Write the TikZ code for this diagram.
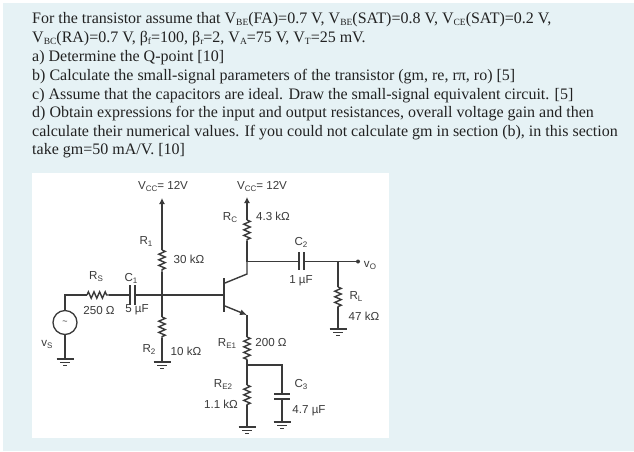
\documentclass[tikz,border=0pt]{standalone}
\usepackage{fontspec}
\setmainfont{Liberation Serif}
\newfontfamily\lblfont{Liberation Sans}
\usetikzlibrary{decorations.pathmorphing,arrows.meta}
\definecolor{pagebg}{HTML}{E6F2F5}
\definecolor{inkc}{HTML}{222222}
\definecolor{wirec}{HTML}{3A3A3A}
\newcommand{\sbs}[1]{\raisebox{-1.8pt}{\fontsize{9.5}{10}\selectfont #1}}
\newcommand{\lsb}[1]{\raisebox{-2pt}{\fontsize{8}{9}\selectfont #1}}
\tikzset{
  qline/.style={anchor=base west,inner sep=0pt,text=inkc,font=\fontsize{16}{18}\selectfont},
  lbl/.style={inner sep=0pt,text=wirec,font=\lblfont\fontsize{11.6}{12}\selectfont},
  wire/.style={draw=wirec,line width=1.4pt},
  zig/.style={wire,decorate,decoration={zigzag,amplitude=3.2pt,segment length=5.6pt}},
  plate/.style={draw=wirec,line width=1.4pt},
  gnd/.style={draw=wirec,line width=1.2pt},
  jdot/.style={circle,fill=wirec,inner sep=0pt,minimum size=4pt},
  srcnode/.style={circle,draw=wirec,line width=1.3pt,fill=white,minimum size=24pt,inner sep=0pt,font=\lblfont\fontsize{9}{10}\selectfont,text=wirec}
}
\newcommand{\grnd}[1]{
  \draw[gnd] ([xshift=-8.5pt]#1) -- ([xshift=8.5pt]#1);
  \draw[gnd] ([xshift=-5pt,yshift=-3.2pt]#1) -- ([xshift=5pt,yshift=-3.2pt]#1);
  \draw[gnd] ([xshift=-2pt,yshift=-6.4pt]#1) -- ([xshift=2pt,yshift=-6.4pt]#1);
}
\begin{document}
\begin{tikzpicture}[x=1pt,y=-1pt]
\useasboundingbox (0,0) rectangle (634,451);
\fill[white] (0,0) rectangle (634,451);
\fill[pagebg] (3,3) rectangle (634,451);
\fill[white] (32,173) rectangle (389,438);
% question text
\node[qline] (l1) at (32,23.3) {For the transistor assume that V\sbs{BE}(FA)=0.7 V, V\sbs{BE}(SAT)=0.8 V, V\sbs{CE}(SAT)=0.2 V,};
\node[qline] (l2) at (32,42.3) {V\sbs{BC}(RA)=0.7 V, β\sbs{f}=100, β\sbs{r}=2, V\sbs{A}=75 V, V\sbs{T}=25 mV.};
\node[qline] (l3) at (32,61.3) {a) Determine the Q-point [10]};
\node[qline] (l4) at (32,80.5) {b) Calculate the small-signal parameters of the transistor (gm, re, rπ, ro) [5]};
\node[qline] (l5) at (32,99) {c) Assume that the capacitors are ideal. Draw the small-signal equivalent circuit. [5]};
\node[qline] (l6) at (32,117.3) {d) Obtain expressions for the input and output resistances, overall voltage gain and then};
\node[qline] (l7) at (32,136) {calculate their numerical values. If you could not calculate gm in section (b), in this section};
\node[qline] (l8) at (32,154.5) {take gm=50 mA/V. [10]};
% coordinates
\coordinate (vcc1) at (162,198);
\coordinate (r1t) at (162,250);
\coordinate (r1b) at (162,272);
\coordinate (jb) at (162,295);
\coordinate (r2t) at (162,317);
\coordinate (r2b) at (162,338);
\coordinate (g2) at (162,362);
\node[srcnode] (vs) at (65,322.5) {\textasciitilde};
\coordinate (stop) at (65,295);
\coordinate (g1) at (65,359);
\coordinate (rsl) at (87,295);
\coordinate (rsr) at (109,295);
\coordinate (c1l) at (130,295);
\coordinate (c1r) at (135,295);
\coordinate (bb) at (224,295);
\coordinate (bt) at (224,278);
\coordinate (bbot) at (224,311.5);
\coordinate (ci) at (225,283);
\coordinate (ei) at (225,306);
\coordinate (col) at (247,274);
\coordinate (em) at (247,315);
\coordinate (jc) at (247,261.5);
\coordinate (rcb) at (247,241);
\coordinate (rct) at (247,220);
\coordinate (vcc2) at (247,197);
\coordinate (re1t) at (247,337);
\coordinate (re1b) at (247,360);
\coordinate (je) at (247,365);
\coordinate (re2t) at (247,385);
\coordinate (re2b) at (247,405);
\coordinate (g3) at (247,427);
\coordinate (c3c) at (282,365);
\coordinate (c3t) at (282,394);
\coordinate (c3b) at (282,399);
\coordinate (g4) at (282,422);
\coordinate (c2l) at (299,261.5);
\coordinate (c2r) at (304,261.5);
\coordinate (jo) at (338,261.5);
\node[jdot] (vo) at (358,261.5) {};
\coordinate (rlt) at (338,287);
\coordinate (rlb) at (338,307);
\coordinate (g5) at (338,329);
% wires
\draw[wire,-{Latex[length=6pt,width=6pt]}] (r1t) -- (vcc1);
\draw[zig] (r1t) -- (r1b);
\draw[wire] (r1b) -- (r2t);
\draw[zig] (r2t) -- (r2b);
\draw[wire] (r2b) -- (g2);
\grnd{g2}
\draw[wire] (vs.north) -- (stop) -- (rsl);
\draw[zig] (rsl) -- (rsr);
\draw[wire] (rsr) -- (c1l);
\draw[plate] (c1l |- 0,285) -- (c1l |- 0,305);
\draw[plate] (c1r |- 0,285) -- (c1r |- 0,305);
\draw[wire] (c1r) -- (bb);
\draw[wire] (vs.south) -- (g1);
\grnd{g1}
% transistor
\draw[draw=wirec,line width=1.7pt] (bt) -- (bbot);
\draw[wire] (ci) -- (col) -- (jc);
\draw[wire,-{Latex[length=7pt,width=6pt]}] (ei) -- (em);
\draw[wire] (em) -- (re1t);
\draw[zig] (rct) -- (rcb);
\draw[wire] (rcb) -- (jc);
\draw[wire,-{Latex[length=6pt,width=6pt]}] (rct) -- (vcc2);
\draw[zig] (re1t) -- (re1b);
\draw[wire] (re1b) -- (je);
\draw[wire] (je) -- (re2t);
\draw[zig] (re2t) -- (re2b);
\draw[wire] (re2b) -- (g3);
\grnd{g3}
\draw[wire] (je) -- (c3c) -- (c3t);
\draw[plate] ([xshift=-8pt]c3t) -- ([xshift=8pt]c3t);
\draw[plate] ([xshift=-8pt]c3b) -- ([xshift=8pt]c3b);
\draw[wire] (c3b) -- (g4);
\grnd{g4}
\draw[wire] (jc) -- (c2l);
\draw[plate] (c2l |- 0,252) -- (c2l |- 0,270);
\draw[plate] (c2r |- 0,252) -- (c2r |- 0,270);
\draw[wire] (c2r) -- (vo);
\draw[wire] (jo) -- (rlt);
\draw[zig] (rlt) -- (rlb);
\draw[wire] (rlb) -- (g5);
\grnd{g5}
% labels
\node[lbl] (tvcc1) at (163,186) {V\lsb{CC}= 12V};
\node[lbl] (tvcc2) at (262,186) {V\lsb{CC}= 12V};
\node[lbl] (tr1) at (146,242) {R\lsb{1}};
\node[lbl] (t30) at (189,259) {30 kΩ};
\node[lbl] (trs) at (96,277) {R\lsb{S}};
\node[lbl] (tc1) at (131,278) {C\lsb{1}};
\node[lbl] (t250) at (99,310) {250 Ω};
\node[lbl] (t5u) at (137,310) {5 µF};
\node[lbl] (tvs) at (47,344) {v\lsb{S}};
\node[lbl] (tr2) at (149,349) {R\lsb{2}};
\node[lbl] (t10) at (186,351) {10 kΩ};
\node[lbl] (tre1) at (227,343) {R\lsb{E1}};
\node[lbl] (t200) at (271,342) {200 Ω};
\node[lbl] (tre2) at (223,384) {R\lsb{E2}};
\node[lbl] (t11) at (221,404) {1.1 kΩ};
\node[lbl] (trc) at (230,218) {R\lsb{C}};
\node[lbl] (t43) at (273,216) {4.3 kΩ};
\node[lbl] (tc2) at (301,242) {C\lsb{2}};
\node[lbl] (t1u) at (301,281) {1 µF};
\node[lbl] (tvo) at (370,265) {v\lsb{O}};
\node[lbl] (trl) at (356,297) {R\lsb{L}};
\node[lbl] (t47) at (364,316) {47 kΩ};
\node[lbl] (tc3) at (301,384) {C\lsb{3}};
\node[lbl] (t47u) at (309,411) {4.7 µF};
\end{tikzpicture}
\end{document}
